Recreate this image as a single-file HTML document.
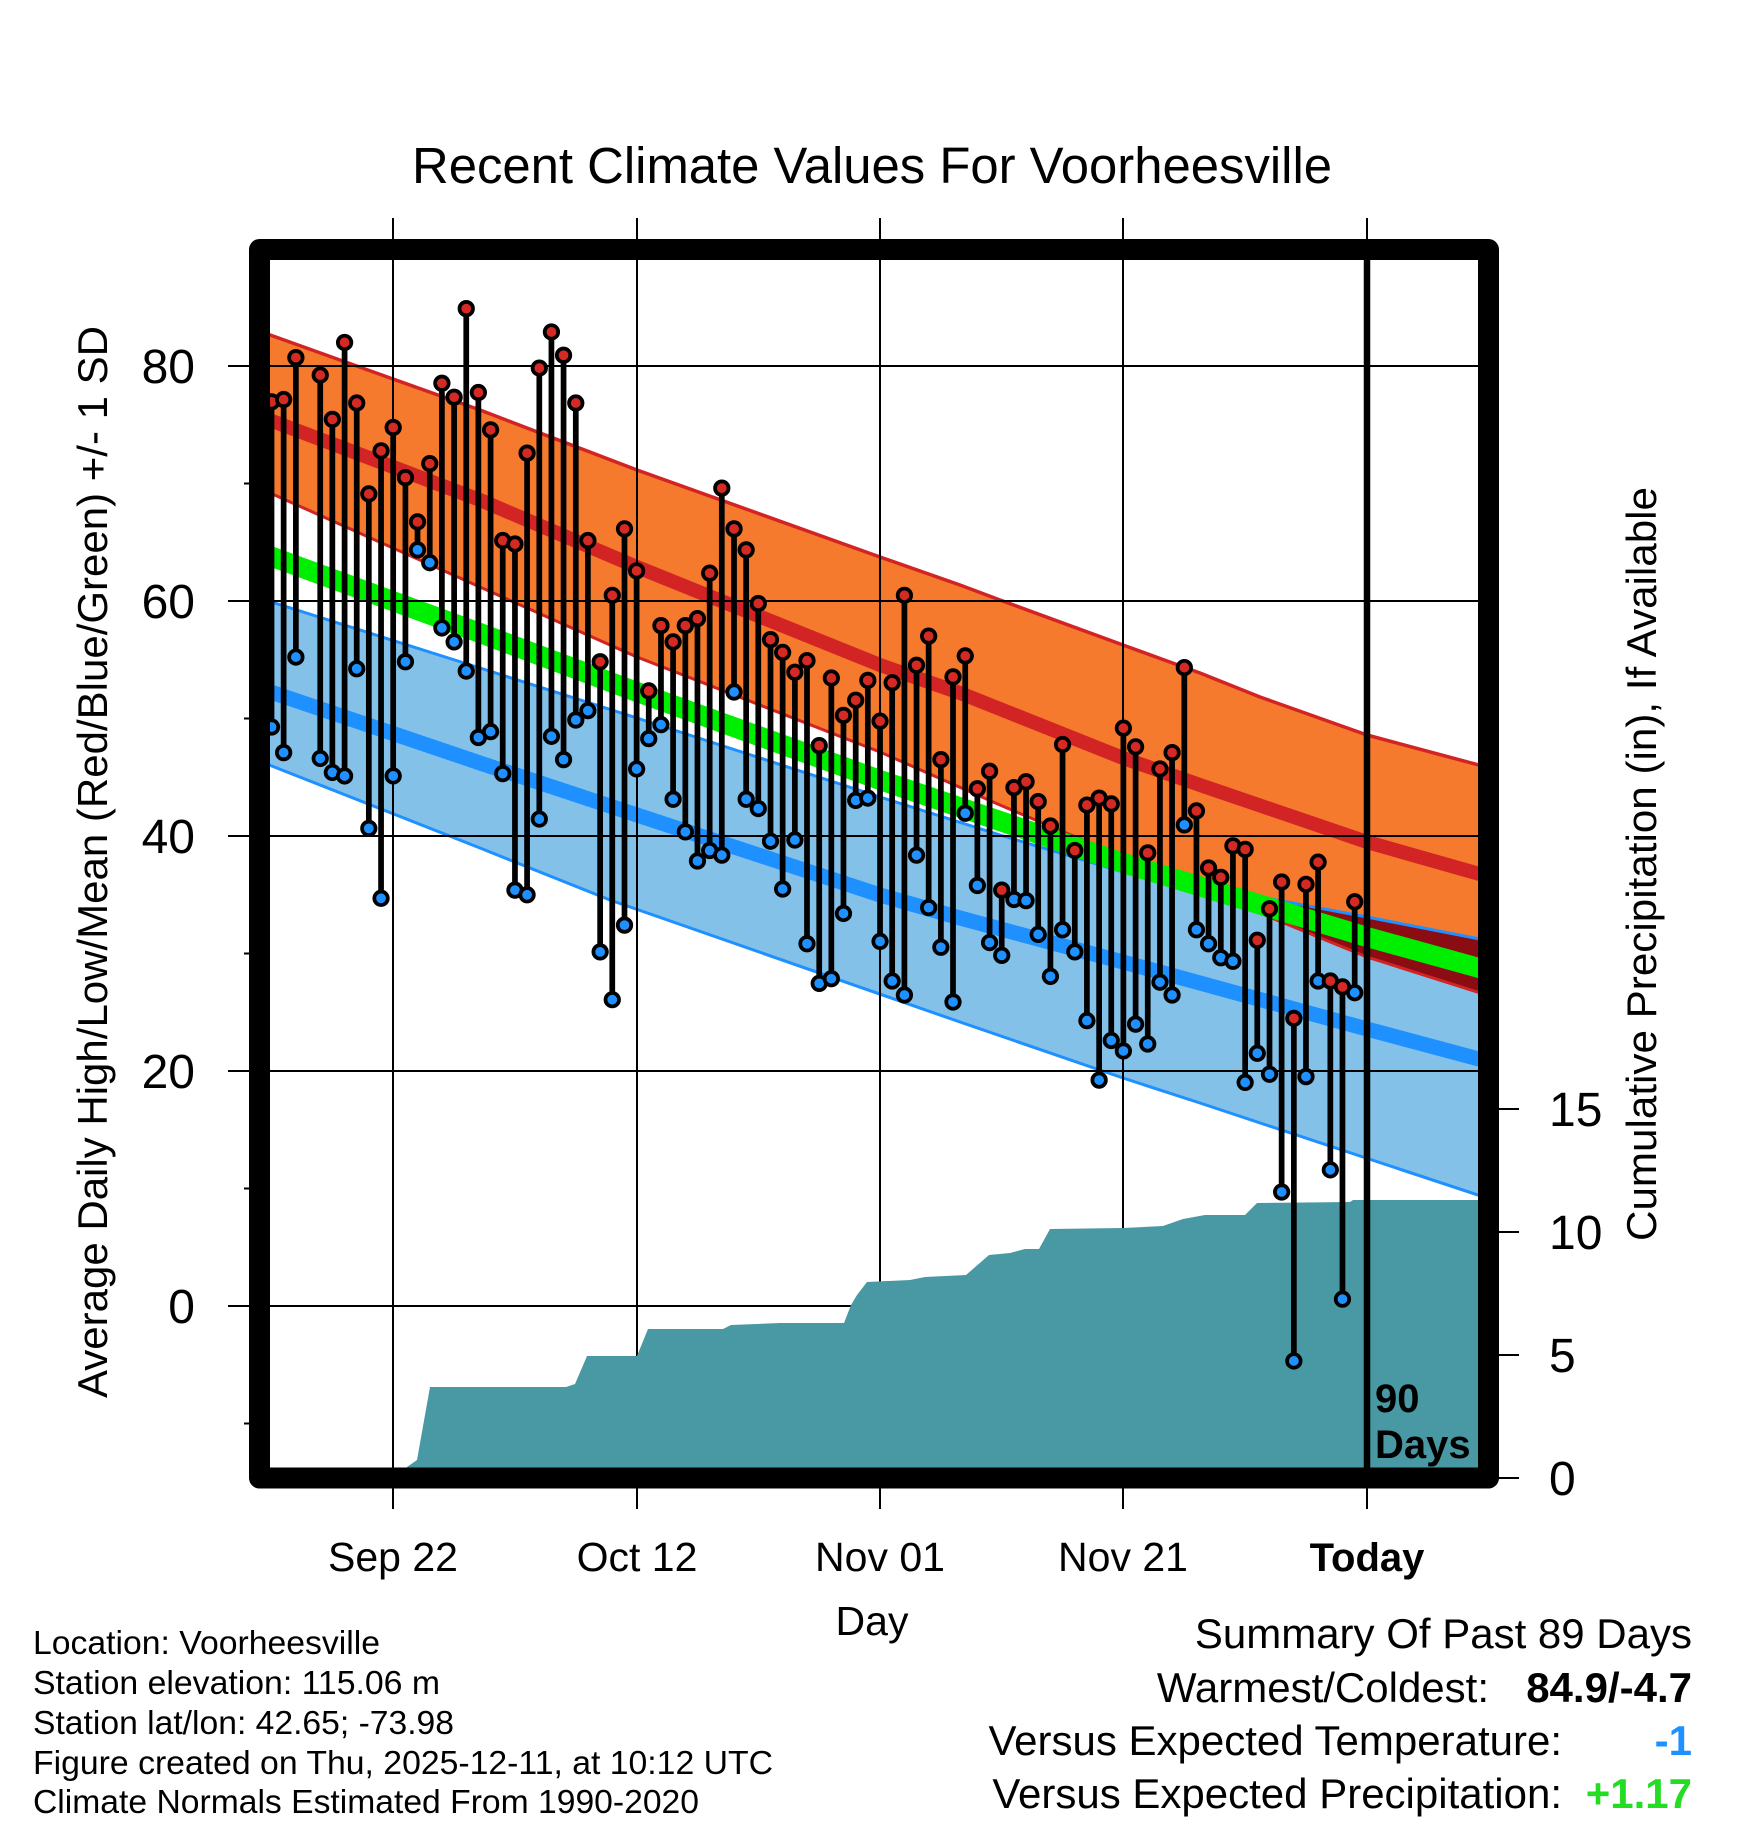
<!DOCTYPE html>
<html>
<head>
<meta charset="utf-8">
<style>
html,body{margin:0;padding:0;background:#fff;}
svg{display:block;}
text{font-family:"Liberation Sans",Arial,sans-serif;}
</style>
</head>
<body>
<svg xmlns="http://www.w3.org/2000/svg" width="1748" height="1828" viewBox="0 0 1748 1828">
<defs>
<clipPath id="plot"><rect x="259.5" y="249.5" width="1229" height="1228.5"/></clipPath>
<clipPath id="lb"><polygon points="259,598 480,668 637,718 880,797 1000,835 1123,872 1250,895 1367,917 1490,941 1490,1199 1363,1157 1200,1103 1123,1078 960,1022 610,900 480,848 259,761"/></clipPath>
</defs>
<rect width="1748" height="1828" fill="#fff"/>

<g clip-path="url(#plot)">
  <polygon fill="#F57A2D" points="259,331 393,379 480,410 637,470 880,557 960,585 1000,600 1123,645 1200,673 1260,697 1367,735 1490,768 1490,996 1367,957 1123,857 1000,805 880,752 637,657 480,587 259,488"/>
  <polygon fill="#83C1E8" points="259,598 480,668 637,718 880,797 1000,835 1123,872 1250,895 1367,917 1490,941 1490,1199 1363,1157 1200,1103 1123,1078 960,1022 610,900 480,848 259,761"/>
  <g clip-path="url(#lb)">
    <polygon fill="#8B0C12" points="259,331 393,379 480,410 637,470 880,557 960,585 1000,600 1123,645 1200,673 1260,697 1367,735 1490,768 1490,996 1367,957 1123,857 1000,805 880,752 637,657 480,587 259,488"/>
  </g>
  <g fill="none" stroke-linejoin="round">
    <polyline stroke="#D22424" stroke-width="3.5" points="259,331 393,379 480,410 637,470 880,557 960,585 1000,600 1123,645 1200,673 1260,697 1367,735 1490,768"/>
    <polyline stroke="#D22424" stroke-width="3" points="259,488 480,587 637,657 880,752 1000,805 1123,857 1367,957 1490,996"/>
    <polyline stroke="#1E90FF" stroke-width="3" points="259,598 480,668 637,718 880,797 1000,835 1123,872 1250,895 1367,917 1490,941"/>
    <polyline stroke="#1E90FF" stroke-width="3" points="259,761 480,848 610,900 960,1022 1123,1078 1200,1103 1363,1157 1490,1199"/>
    <polyline stroke="#00EE00" stroke-width="20" points="259,552 480,633 637,692 880,780 1000,821 1123,863 1367,937 1490,971"/>
    <polyline stroke="#D22424" stroke-width="14" points="259,416 480,500 637,567 880,665 960,693 1123,758 1200,785 1367,842 1490,877"/>
    <polyline stroke="#1E90FF" stroke-width="15" points="259,688 480,763 637,815 880,895 960,918 1123,962 1200,983 1367,1029 1490,1062"/>
  </g>
</g>

<g stroke="#000" stroke-width="2" fill="none">
  <path d="M228 366H1490M228 601H1490M228 836H1490M228 1071H1490M228 1306H1490"/>
  <path d="M393 218V1509M637 218V1509M880 218V1509M1123 218V1509M1367 218V1509"/>
  <path d="M244 483.5H252M244 718.5H252M244 953.5H252M244 1188.5H252M244 1423.5H252"/>
  <path d="M1488 1109H1519M1488 1232H1519M1488 1355H1519M1488 1478H1519"/>
</g>

<polygon fill="#4899A3" clip-path="url(#plot)" points="259,1480 400,1480 407,1467 417,1460 430,1387 566,1387 575,1384 587,1356 637,1356 648,1329 723,1329 731,1325 780,1323 844,1323 851,1305 857,1295 867,1282 910,1280 925,1277 966,1275 989,1255 1010,1253 1025,1249 1039,1249 1050,1229 1123,1228 1163,1226 1183,1219 1205,1215 1245,1215 1257,1203 1350,1202 1353,1200 1490,1200 1490,1480"/>

<g transform="translate(0,1) scale(1.16533)">
<path fill="none" stroke="#000" stroke-width="4.9" d="M233 344V623M243.4 342V645M253.9 306V563M274.8 321V650M285.2 359V662M295.7 293V665M306.1 345V573M316.5 423V710M327 386V770M337.4 366V665M347.9 409V567M358.3 447V471M368.8 397V482M379.2 328V538M389.7 340V550M400.1 264V575M410.5 336V632M421 368V627M431.4 463V663M441.9 466V763M452.3 388V767M462.8 315V702M473.2 284V631M483.6 304V651M494.1 345V617M504.5 463V609M515 567V816M525.4 510V857M535.9 453V793M546.3 489V659M556.7 592V633M567.2 536V621M577.6 550V685M588.1 536V713M598.5 530V738M609 491V729M619.4 418V733M629.9 453V593M640.3 471V685M650.7 517V693M661.2 548V721M671.6 559V762M682.1 576V720M692.5 566V809M703 639V843M713.4 581V839M723.8 613V783M734.3 600V686M744.7 583V684M755.2 618V807M765.6 585V841M776.1 510V853M786.5 570V733M796.9 545V778M807.4 651V812M817.8 580V859M828.3 562V697M838.7 676V759M849.2 661V808M859.6 763V819M870.1 675V771M880.5 670V772M890.9 687V801M901.4 708V837M911.8 638V797M922.3 729V816M932.7 690V875M943.2 684V926M953.6 689V892M964 624V901M974.5 640V878M984.9 731V895M995.4 659V842M1005.8 645V853M1016.3 572V707M1026.7 695V797M1037.1 744V809M1047.6 752V821M1058 725V824M1068.5 728V928M1078.9 806V903M1089.4 779V921M1099.8 756V1022M1110.3 873V1167M1120.7 758V923M1131.1 739V841M1141.6 841V1003M1152 846V1114M1162.5 773V851"/>
<g fill="#1E90FF" stroke="#000" stroke-width="3.2">
<circle cx="233" cy="623" r="5.8"/><circle cx="243.4" cy="645" r="5.8"/><circle cx="253.9" cy="563" r="5.8"/><circle cx="274.8" cy="650" r="5.8"/><circle cx="285.2" cy="662" r="5.8"/><circle cx="295.7" cy="665" r="5.8"/><circle cx="306.1" cy="573" r="5.8"/><circle cx="316.5" cy="710" r="5.8"/><circle cx="327" cy="770" r="5.8"/><circle cx="337.4" cy="665" r="5.8"/><circle cx="347.9" cy="567" r="5.8"/><circle cx="358.3" cy="471" r="5.8"/><circle cx="368.8" cy="482" r="5.8"/><circle cx="379.2" cy="538" r="5.8"/><circle cx="389.7" cy="550" r="5.8"/><circle cx="400.1" cy="575" r="5.8"/><circle cx="410.5" cy="632" r="5.8"/><circle cx="421" cy="627" r="5.8"/><circle cx="431.4" cy="663" r="5.8"/><circle cx="441.9" cy="763" r="5.8"/><circle cx="452.3" cy="767" r="5.8"/><circle cx="462.8" cy="702" r="5.8"/><circle cx="473.2" cy="631" r="5.8"/><circle cx="483.6" cy="651" r="5.8"/><circle cx="494.1" cy="617" r="5.8"/><circle cx="504.5" cy="609" r="5.8"/><circle cx="515" cy="816" r="5.8"/><circle cx="525.4" cy="857" r="5.8"/><circle cx="535.9" cy="793" r="5.8"/><circle cx="546.3" cy="659" r="5.8"/><circle cx="556.7" cy="633" r="5.8"/><circle cx="567.2" cy="621" r="5.8"/><circle cx="577.6" cy="685" r="5.8"/><circle cx="588.1" cy="713" r="5.8"/><circle cx="598.5" cy="738" r="5.8"/><circle cx="609" cy="729" r="5.8"/><circle cx="619.4" cy="733" r="5.8"/><circle cx="629.9" cy="593" r="5.8"/><circle cx="640.3" cy="685" r="5.8"/><circle cx="650.7" cy="693" r="5.8"/><circle cx="661.2" cy="721" r="5.8"/><circle cx="671.6" cy="762" r="5.8"/><circle cx="682.1" cy="720" r="5.8"/><circle cx="692.5" cy="809" r="5.8"/><circle cx="703" cy="843" r="5.8"/><circle cx="713.4" cy="839" r="5.8"/><circle cx="723.8" cy="783" r="5.8"/><circle cx="734.3" cy="686" r="5.8"/><circle cx="744.7" cy="684" r="5.8"/><circle cx="755.2" cy="807" r="5.8"/><circle cx="765.6" cy="841" r="5.8"/><circle cx="776.1" cy="853" r="5.8"/><circle cx="786.5" cy="733" r="5.8"/><circle cx="796.9" cy="778" r="5.8"/><circle cx="807.4" cy="812" r="5.8"/><circle cx="817.8" cy="859" r="5.8"/><circle cx="828.3" cy="697" r="5.8"/><circle cx="838.7" cy="759" r="5.8"/><circle cx="849.2" cy="808" r="5.8"/><circle cx="859.6" cy="819" r="5.8"/><circle cx="870.1" cy="771" r="5.8"/><circle cx="880.5" cy="772" r="5.8"/><circle cx="890.9" cy="801" r="5.8"/><circle cx="901.4" cy="837" r="5.8"/><circle cx="911.8" cy="797" r="5.8"/><circle cx="922.3" cy="816" r="5.8"/><circle cx="932.7" cy="875" r="5.8"/><circle cx="943.2" cy="926" r="5.8"/><circle cx="953.6" cy="892" r="5.8"/><circle cx="964" cy="901" r="5.8"/><circle cx="974.5" cy="878" r="5.8"/><circle cx="984.9" cy="895" r="5.8"/><circle cx="995.4" cy="842" r="5.8"/><circle cx="1005.8" cy="853" r="5.8"/><circle cx="1016.3" cy="707" r="5.8"/><circle cx="1026.7" cy="797" r="5.8"/><circle cx="1037.1" cy="809" r="5.8"/><circle cx="1047.6" cy="821" r="5.8"/><circle cx="1058" cy="824" r="5.8"/><circle cx="1068.5" cy="928" r="5.8"/><circle cx="1078.9" cy="903" r="5.8"/><circle cx="1089.4" cy="921" r="5.8"/><circle cx="1099.8" cy="1022" r="5.8"/><circle cx="1110.3" cy="1167" r="5.8"/><circle cx="1120.7" cy="923" r="5.8"/><circle cx="1131.1" cy="841" r="5.8"/><circle cx="1141.6" cy="1003" r="5.8"/><circle cx="1152" cy="1114" r="5.8"/><circle cx="1162.5" cy="851" r="5.8"/>
</g>
<g fill="#D42A23" stroke="#000" stroke-width="3.2">
<circle cx="233" cy="344" r="5.8"/><circle cx="243.4" cy="342" r="5.8"/><circle cx="253.9" cy="306" r="5.8"/><circle cx="274.8" cy="321" r="5.8"/><circle cx="285.2" cy="359" r="5.8"/><circle cx="295.7" cy="293" r="5.8"/><circle cx="306.1" cy="345" r="5.8"/><circle cx="316.5" cy="423" r="5.8"/><circle cx="327" cy="386" r="5.8"/><circle cx="337.4" cy="366" r="5.8"/><circle cx="347.9" cy="409" r="5.8"/><circle cx="358.3" cy="447" r="5.8"/><circle cx="368.8" cy="397" r="5.8"/><circle cx="379.2" cy="328" r="5.8"/><circle cx="389.7" cy="340" r="5.8"/><circle cx="400.1" cy="264" r="5.8"/><circle cx="410.5" cy="336" r="5.8"/><circle cx="421" cy="368" r="5.8"/><circle cx="431.4" cy="463" r="5.8"/><circle cx="441.9" cy="466" r="5.8"/><circle cx="452.3" cy="388" r="5.8"/><circle cx="462.8" cy="315" r="5.8"/><circle cx="473.2" cy="284" r="5.8"/><circle cx="483.6" cy="304" r="5.8"/><circle cx="494.1" cy="345" r="5.8"/><circle cx="504.5" cy="463" r="5.8"/><circle cx="515" cy="567" r="5.8"/><circle cx="525.4" cy="510" r="5.8"/><circle cx="535.9" cy="453" r="5.8"/><circle cx="546.3" cy="489" r="5.8"/><circle cx="556.7" cy="592" r="5.8"/><circle cx="567.2" cy="536" r="5.8"/><circle cx="577.6" cy="550" r="5.8"/><circle cx="588.1" cy="536" r="5.8"/><circle cx="598.5" cy="530" r="5.8"/><circle cx="609" cy="491" r="5.8"/><circle cx="619.4" cy="418" r="5.8"/><circle cx="629.9" cy="453" r="5.8"/><circle cx="640.3" cy="471" r="5.8"/><circle cx="650.7" cy="517" r="5.8"/><circle cx="661.2" cy="548" r="5.8"/><circle cx="671.6" cy="559" r="5.8"/><circle cx="682.1" cy="576" r="5.8"/><circle cx="692.5" cy="566" r="5.8"/><circle cx="703" cy="639" r="5.8"/><circle cx="713.4" cy="581" r="5.8"/><circle cx="723.8" cy="613" r="5.8"/><circle cx="734.3" cy="600" r="5.8"/><circle cx="744.7" cy="583" r="5.8"/><circle cx="755.2" cy="618" r="5.8"/><circle cx="765.6" cy="585" r="5.8"/><circle cx="776.1" cy="510" r="5.8"/><circle cx="786.5" cy="570" r="5.8"/><circle cx="796.9" cy="545" r="5.8"/><circle cx="807.4" cy="651" r="5.8"/><circle cx="817.8" cy="580" r="5.8"/><circle cx="828.3" cy="562" r="5.8"/><circle cx="838.7" cy="676" r="5.8"/><circle cx="849.2" cy="661" r="5.8"/><circle cx="859.6" cy="763" r="5.8"/><circle cx="870.1" cy="675" r="5.8"/><circle cx="880.5" cy="670" r="5.8"/><circle cx="890.9" cy="687" r="5.8"/><circle cx="901.4" cy="708" r="5.8"/><circle cx="911.8" cy="638" r="5.8"/><circle cx="922.3" cy="729" r="5.8"/><circle cx="932.7" cy="690" r="5.8"/><circle cx="943.2" cy="684" r="5.8"/><circle cx="953.6" cy="689" r="5.8"/><circle cx="964" cy="624" r="5.8"/><circle cx="974.5" cy="640" r="5.8"/><circle cx="984.9" cy="731" r="5.8"/><circle cx="995.4" cy="659" r="5.8"/><circle cx="1005.8" cy="645" r="5.8"/><circle cx="1016.3" cy="572" r="5.8"/><circle cx="1026.7" cy="695" r="5.8"/><circle cx="1037.1" cy="744" r="5.8"/><circle cx="1047.6" cy="752" r="5.8"/><circle cx="1058" cy="725" r="5.8"/><circle cx="1068.5" cy="728" r="5.8"/><circle cx="1078.9" cy="806" r="5.8"/><circle cx="1089.4" cy="779" r="5.8"/><circle cx="1099.8" cy="756" r="5.8"/><circle cx="1110.3" cy="873" r="5.8"/><circle cx="1120.7" cy="758" r="5.8"/><circle cx="1131.1" cy="739" r="5.8"/><circle cx="1141.6" cy="841" r="5.8"/><circle cx="1152" cy="846" r="5.8"/><circle cx="1162.5" cy="773" r="5.8"/>
</g>
</g>

<line x1="1367" y1="249" x2="1367" y2="1478" stroke="#000" stroke-width="6.5"/>

<rect x="259.5" y="249.5" width="1229" height="1228.5" fill="none" stroke="#000" stroke-width="21" stroke-linejoin="round"/>

<text x="1375" y="1412" font-size="40" font-weight="bold">90</text>
<text x="1375" y="1458" font-size="40" font-weight="bold">Days</text>

<text x="872" y="183" font-size="51" text-anchor="middle" textLength="920" lengthAdjust="spacingAndGlyphs">Recent Climate Values For Voorheesville</text>

<g font-size="48" text-anchor="end">
<text x="195" y="383">80</text>
<text x="195" y="618">60</text>
<text x="195" y="853">40</text>
<text x="195" y="1088">20</text>
<text x="195" y="1323">0</text>
</g>
<g font-size="48">
<text x="1549" y="1126">15</text>
<text x="1549" y="1249">10</text>
<text x="1549" y="1372">5</text>
<text x="1549" y="1495">0</text>
</g>
<g font-size="41" text-anchor="middle">
<text x="393" y="1571">Sep 22</text>
<text x="637" y="1571">Oct 12</text>
<text x="880" y="1571">Nov 01</text>
<text x="1123" y="1571">Nov 21</text>
<text x="1367" y="1571" font-weight="bold" font-size="40">Today</text>
<text x="872" y="1635">Day</text>
</g>

<text transform="translate(107,862) rotate(-90)" font-size="42" text-anchor="middle" textLength="1072" lengthAdjust="spacingAndGlyphs">Average Daily High/Low/Mean (Red/Blue/Green) +/- 1 SD</text>
<text transform="translate(1656,864) rotate(-90)" font-size="42" text-anchor="middle" textLength="754" lengthAdjust="spacingAndGlyphs">Cumulative Precipitation (in), If Available</text>

<g font-size="33.5">
<text x="33" y="1654" textLength="347" lengthAdjust="spacingAndGlyphs">Location: Voorheesville</text>
<text x="33" y="1694" textLength="407" lengthAdjust="spacingAndGlyphs">Station elevation: 115.06 m</text>
<text x="33" y="1734" textLength="421" lengthAdjust="spacingAndGlyphs">Station lat/lon: 42.65; -73.98</text>
<text x="33" y="1774" textLength="740" lengthAdjust="spacingAndGlyphs">Figure created on Thu, 2025-12-11, at 10:12 UTC</text>
<text x="33" y="1813" textLength="666" lengthAdjust="spacingAndGlyphs">Climate Normals Estimated From 1990-2020</text>
</g>

<g font-size="42">
<text x="1692" y="1648" text-anchor="end">Summary Of Past 89 Days</text>
<text x="1489" y="1702" text-anchor="end">Warmest/Coldest:</text>
<text x="1692" y="1702" text-anchor="end" font-weight="bold">84.9/-4.7</text>
<text x="1562" y="1755" text-anchor="end">Versus Expected Temperature:</text>
<text x="1692" y="1755" text-anchor="end" font-weight="bold" fill="#1E90FF">-1</text>
<text x="1562" y="1808" text-anchor="end">Versus Expected Precipitation:</text>
<text x="1692" y="1808" text-anchor="end" font-weight="bold" fill="#22DD22">+1.17</text>
</g>
</svg>
</body>
</html>
